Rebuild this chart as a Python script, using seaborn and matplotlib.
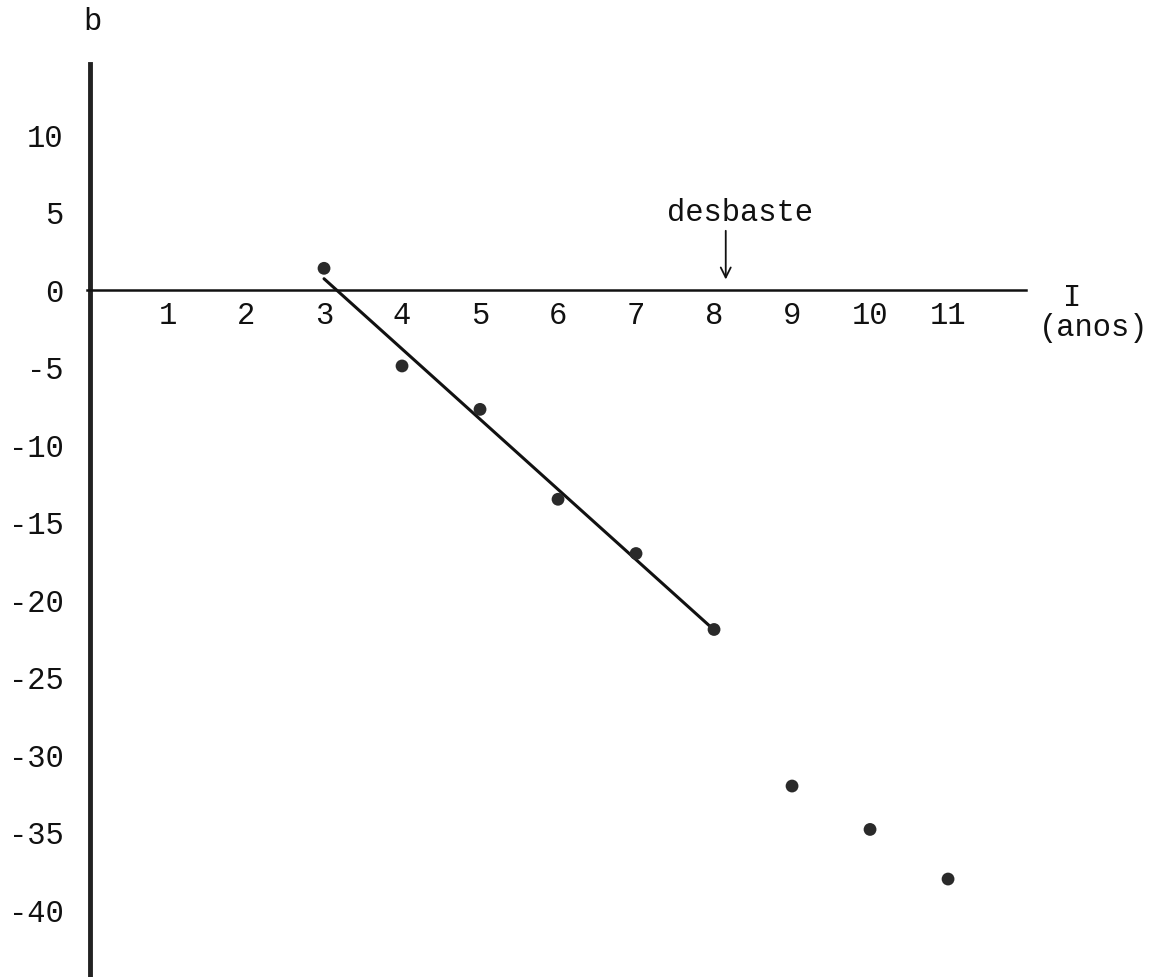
import matplotlib
matplotlib.use("Agg")
import matplotlib.pyplot as plt
import seaborn as sns
import pandas as pd

# data
idade = [3, 4, 5, 6, 7, 8, 9, 10, 11]            # I (anos)
b_vals = [1.4, -4.9, -7.7, -13.5, -17.0, -21.9, -32.0, -34.8, -38.0]
fit_n = 6                                          # regression over ages 3..8 (before thinning)
x_ticks = [1, 2, 3, 4, 5, 6, 7, 8, 9, 10, 11]
y_ticks = [-40, -35, -30, -25, -20, -15, -10, -5, 0, 5, 10]
desbaste_age = 8.15

sns.set_style("white")
plt.rcParams["font.family"] = ["Liberation Mono", "DejaVu Sans Mono"]
plt.rcParams["axes.unicode_minus"] = False

FS = 22

df = pd.DataFrame({"I": idade, "b": b_vals})

fig = plt.figure(figsize=(11.61, 9.77), dpi=100)
ax = fig.add_axes([0, 0, 1, 1])

sns.regplot(data=df.iloc[:fit_n], x="I", y="b", scatter=False, ci=None,
            color="#111111", line_kws={"linewidth": 2.2}, ax=ax)
sns.scatterplot(data=df, x="I", y="b", color="#2a2a2a", s=85, edgecolor="none",
                ax=ax, zorder=5)

ax.set_xlim(-1.154, 13.73)
ax.set_ylim(-44.32, 18.71)

for s in ["top", "right"]:
    ax.spines[s].set_visible(False)
ax.spines["left"].set_position(("data", 0))
ax.spines["bottom"].set_position(("data", 0))
ax.spines["left"].set_bounds(-44.32, 14.6)
ax.spines["bottom"].set_bounds(-0.04, 12.0)
ax.spines["left"].set_linewidth(3.5)
ax.spines["left"].set_color("#222222")
ax.spines["bottom"].set_linewidth(1.8)
ax.spines["bottom"].set_color("#111111")

ax.set_xticks(x_ticks)
ax.set_xticklabels([str(v) for v in x_ticks])
ax.set_yticks(y_ticks)
ax.set_yticklabels([str(v) for v in y_ticks])
ax.tick_params(axis="x", direction="out", length=4, width=1.5, pad=4,
               labelsize=FS, colors="#111111")
ax.tick_params(axis="y", direction="out", length=5, width=1.5, pad=14,
               labelsize=FS, colors="#111111")
ax.set_xlabel("")
ax.set_ylabel("")

ax.text(-0.08, 17.3, "b", fontsize=FS, ha="left", va="center", color="#111111")
ax.text(12.59, -0.52, "I", fontsize=FS, ha="center", va="center", color="#111111")
ax.text(12.86, -2.45, "(anos)", fontsize=FS, ha="center", va="center", color="#111111")

ax.annotate("", xy=(desbaste_age, 0.5), xytext=(desbaste_age, 4.0),
            arrowprops=dict(arrowstyle="->", color="#111111", lw=1.3,
                            mutation_scale=18))
ax.text(8.33, 5.0, "desbaste", fontsize=FS, ha="center", va="center", color="#111111")

fig.savefig("out.png", dpi=100, facecolor="white")
